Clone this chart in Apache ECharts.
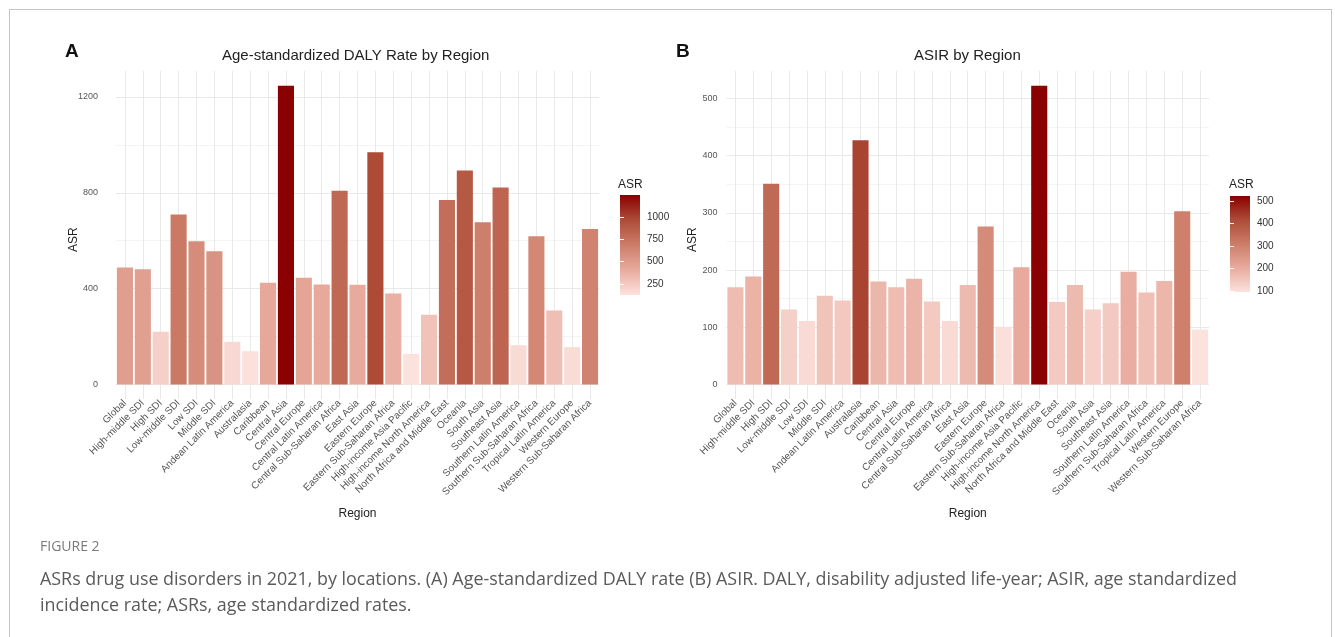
<!DOCTYPE html>
<html>
<head>
<meta charset="utf-8">
<script src="https://cdn.jsdelivr.net/npm/echarts@6/dist/echarts.min.js"></script>
<style>
  html, body { margin: 0; padding: 0; background: #fff; }
  #wrap { position: relative; width: 1335px; height: 637px; overflow: hidden; }
  #frame { position: absolute; left: 9px; top: 9px; width: 1323px; height: 700px; border: 1px solid #c4c4c4; box-sizing: border-box; }
  #chart { position: absolute; left: 0; top: 0; width: 1335px; height: 637px; }
</style>
</head>
<body>
<div id="wrap">
  <div id="frame"></div>
  <div id="chart"></div>
</div>
<script>
// ---- data ----
const categories = [
  "Global", "High-middle SDI", "High SDI", "Low-middle SDI", "Low SDI", "Middle SDI",
  "Andean Latin America", "Australasia", "Caribbean", "Central Asia", "Central Europe",
  "Central Latin America", "Central Sub-Saharan Africa", "East Asia", "Eastern Europe",
  "Eastern Sub-Saharan Africa", "High-income Asia Pacific", "High-income North America",
  "North Africa and Middle East", "Oceania", "South Asia", "Southeast Asia",
  "Southern Latin America", "Southern Sub-Saharan Africa", "Tropical Latin America",
  "Western Europe", "Western Sub-Saharan Africa"
];
const dalyValues = [488, 481, 220, 709, 598, 556, 178, 139, 425, 1246, 445, 417, 808, 416, 969,
  380, 128, 291, 770, 893, 677, 822, 164, 619, 309, 156, 649];
const asirValues = [170, 189, 351, 131, 111, 155, 147, 427, 180, 170, 185, 145, 111, 174, 276,
  101, 205, 522, 144, 174, 131, 142, 197, 161, 181, 303, 96];
const dalyLegendTicks = [250, 500, 750, 1000];
const asirLegendTicks = [100, 200, 300, 400, 500];
const titleA = "Age-standardized DALY Rate by Region";
const titleB = "ASIR by Region";
const captionHead = "FIGURE 2";
const captionText = "ASRs drug use disorders in 2021, by locations. (A) Age-standardized DALY rate (B) ASIR. DALY, disability adjusted life-year; ASIR, age standardized\nincidence rate; ASRs, age standardized rates.";

// ---- styles ----
const rampLowToHigh = ['#fce2dd', '#e8ab9e', '#cc7d69', '#ad4c38', '#8b0000'];
const FONT = 'Liberation Sans, Arial, Helvetica, sans-serif';
const CAPFONT = 'Open Sans, Noto Sans, sans-serif';
const MAJOR = '#e9e9e9';
const MINOR = '#f4f4f4';

function gradientFill() {
  const n = rampLowToHigh.length;
  return {
    type: 'linear', x: 0, y: 0, x2: 0, y2: 1,
    colorStops: rampLowToHigh.slice().reverse().map((c, i) => ({ offset: i / (n - 1), color: c }))
  };
}

function mainAxes(gi, majorStep, yTop, nameGap, labelMargin) {
  const minorStep = majorStep / 2;
  const x = {
    type: 'category', gridIndex: gi, data: categories,
    boundaryGap: true,
    axisLine: { show: false },
    axisTick: { show: false },
    splitLine: { show: false },
    axisLabel: { interval: 0, rotate: 45, fontSize: 10, color: '#555', margin: 17, fontFamily: FONT },
    name: 'Region', nameLocation: 'middle', nameGap: 123, nameMoveOverlap: false,
    nameTextStyle: { fontSize: 12, color: '#222', fontFamily: FONT }
  };
  const y = {
    type: 'value', gridIndex: gi, min: 0, max: yTop, interval: minorStep,
    axisLine: { show: false }, axisTick: { show: false },
    splitLine: { show: true, showMaxLine: false, lineStyle: { color: [MAJOR, MINOR], width: 1 } },
    axisLabel: {
      fontSize: 9, color: '#555', margin: labelMargin, fontFamily: FONT, showMaxLabel: false,
      formatter: v => (Math.abs(v % majorStep) < 1e-6 && v <= yTop - 1 ? String(v) : '')
    },
    name: 'ASR', nameLocation: 'middle', nameGap: nameGap, nameRotate: 90, nameMoveOverlap: false,
    nameTextStyle: { fontSize: 12, color: '#222', fontFamily: FONT, padding: [0, 24, 0, 0] }
  };
  return [x, y];
}

// overlay grid axes: vertical gridlines through category centres
function gridLineAxes(gi) {
  const x = {
    type: 'category', gridIndex: gi, data: categories, boundaryGap: false,
    axisLine: { show: false }, axisTick: { show: false, interval: 0 },
    axisLabel: { show: false, interval: 0 },
    splitLine: { show: true, interval: 0, lineStyle: { color: MAJOR, width: 1 } }
  };
  const y = { type: 'value', gridIndex: gi, show: false, min: 0, max: 1, splitLine: { show: false } };
  return [x, y];
}

function legendAxes(gi, values, ticks) {
  const lo = Math.min(...values), hi = Math.max(...values);
  const x = { type: 'value', gridIndex: gi, show: false, min: 0, max: 1 };
  const yR = {
    type: 'value', gridIndex: gi, min: lo, max: hi, position: 'right',
    axisLine: { show: false }, splitLine: { show: false },
    axisTick: { show: true, inside: true, length: 4, customValues: ticks, lineStyle: { color: '#fff', width: 1 } },
    axisLabel: { show: true, customValues: ticks, fontSize: 10, color: '#333', margin: 7, fontFamily: FONT,
      formatter: v => String(v) }
  };
  const yL = {
    type: 'value', gridIndex: gi, min: lo, max: hi, position: 'left',
    axisLine: { show: false }, splitLine: { show: false },
    axisTick: { show: true, inside: true, length: 4, customValues: ticks, lineStyle: { color: '#fff', width: 1 } },
    axisLabel: { show: false }
  };
  return [x, yR, yL];
}

const [xA, yA] = mainAxes(0, 400, 1308, 36, 18);
const [xB, yB] = mainAxes(1, 100, 548, 28, 9);
const [xLA, yLA1, yLA2] = legendAxes(2, dalyValues, dalyLegendTicks);
const [xLB, yLB1, yLB2] = legendAxes(3, asirValues, asirLegendTicks);
const [xGA, yGA] = gridLineAxes(4);
const [xGB, yGB] = gridLineAxes(5);

const option = {
  backgroundColor: 'transparent',
  animation: false,
  title: [
    { text: 'A', left: 65, top: 42, padding: 0, textStyle: { fontSize: 19, fontWeight: 'bold', color: '#111', fontFamily: FONT } },
    { text: 'B', left: 676, top: 42, padding: 0, textStyle: { fontSize: 19, fontWeight: 'bold', color: '#111', fontFamily: FONT } },
    { text: titleA, left: 222, top: 48, padding: 0, textStyle: { fontSize: 15, fontWeight: 'normal', color: '#222', fontFamily: FONT } },
    { text: titleB, left: 914, top: 48, padding: 0, textStyle: { fontSize: 15, fontWeight: 'normal', color: '#222', fontFamily: FONT } },
    { text: 'ASR', left: 618, top: 179, padding: 0, textStyle: { fontSize: 12, fontWeight: 'normal', color: '#222', fontFamily: FONT } },
    { text: 'ASR', left: 1229, top: 179, padding: 0, textStyle: { fontSize: 12, fontWeight: 'normal', color: '#222', fontFamily: FONT } },
    { text: captionHead, left: 40, top: 540, padding: 0, textStyle: { fontSize: 14, fontWeight: 'normal', color: '#7a7a7a', fontFamily: CAPFONT } },
    { text: captionText, left: 40, top: 567, padding: 0, textStyle: { fontSize: 17.9, lineHeight: 26, fontWeight: 'normal', color: '#5a5a5a', fontFamily: CAPFONT } }
  ],
  grid: [
    { left: 116, top: 71, width: 483, height: 313.5, outerBoundsMode: 'none' },
    { left: 726.5, top: 71, width: 482.5, height: 313.5, outerBoundsMode: 'none' },
    { left: 620, top: 195, width: 20, height: 100, show: true, borderWidth: 0, backgroundColor: gradientFill(), outerBoundsMode: 'none' },
    { left: 1230, top: 196, width: 20, height: 96, show: true, borderWidth: 0, backgroundColor: gradientFill(), outerBoundsMode: 'none' },
    { left: 124.94, top: 71, width: 465.1, height: 328, outerBoundsMode: 'none', z: 0 },
    { left: 735.44, top: 71, width: 464.6, height: 328, outerBoundsMode: 'none', z: 0 }
  ],
  xAxis: [xA, xB, xLA, xLB, xGA, xGB],
  yAxis: [yA, yB, yLA1, yLA2, yLB1, yLB2, yGA, yGB],
  visualMap: [
    { type: 'continuous', show: false, seriesIndex: 0, dimension: 1,
      min: Math.min(...dalyValues), max: Math.max(...dalyValues), inRange: { color: rampLowToHigh } },
    { type: 'continuous', show: false, seriesIndex: 1, dimension: 1,
      min: Math.min(...asirValues), max: Math.max(...asirValues), inRange: { color: rampLowToHigh } }
  ],
  series: [
    { type: 'bar', xAxisIndex: 0, yAxisIndex: 0, data: dalyValues, barCategoryGap: '10%', z: 5 },
    { type: 'bar', xAxisIndex: 1, yAxisIndex: 1, data: asirValues, barCategoryGap: '10%', z: 5 }
  ]
};
option.yAxis[2].gridIndex = 2; option.yAxis[3].gridIndex = 2;
option.yAxis[4].gridIndex = 3; option.yAxis[5].gridIndex = 3;
option.yAxis[6].gridIndex = 4; option.yAxis[7].gridIndex = 5;

const chart = echarts.init(document.getElementById('chart'), null, { renderer: 'canvas' });
chart.setOption(option);
</script>
</body>
</html>
